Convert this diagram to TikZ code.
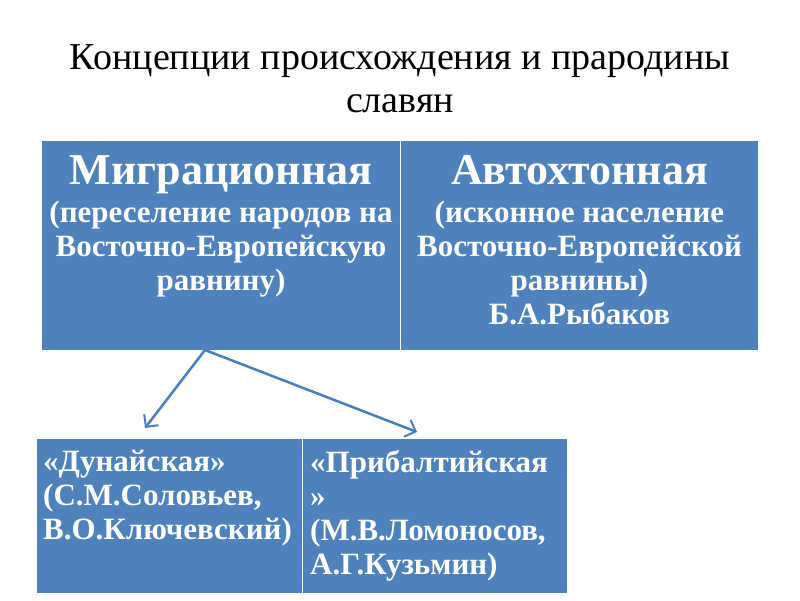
\documentclass[tikz,border=0pt]{standalone}
\usepackage{fontspec}
\setmainfont{Liberation Serif}
\usetikzlibrary{arrows.meta}
\definecolor{cellblue}{HTML}{4F81BD}
\definecolor{arrowblue}{HTML}{4A7EBB}
\tikzset{
  cell/.style={fill=cellblue, draw=white, line width=1pt, anchor=north west, inner sep=0pt},
  celltext/.style={text=white, font=\bfseries\fontsize{31}{34}\selectfont, inner sep=0pt},
  pointer/.style={draw=arrowblue, line width=2.5pt, -{Straight Barb[length=9pt,width=18pt,line width=2pt]}}
}
\begin{document}
\begin{tikzpicture}[x=1pt,y=-1pt]
  \useasboundingbox (0,0) rectangle (800,600);

  % title
  \node[align=center, font=\fontsize{38}{43}\selectfont] (title) at (400,79)
    {Концепции происхождения и прародины\\славян};

  % upper table
  \node[cell, minimum width=359pt, minimum height=210pt] (mig) at (41,140) {};
  \node[cell, minimum width=358pt, minimum height=210pt] (avt) at (400,140) {};

  \node[celltext, align=center, anchor=north] (migtext) at ([yshift=-15pt]mig.north)
    {{\fontsize{44}{44}\selectfont Миграционная}\\[4pt]
     (переселение народов на\\Восточно-Европейскую\\равнину)};
  \node[celltext, align=center, anchor=north] (avttext) at ([yshift=-15pt]avt.north)
    {{\fontsize{44}{44}\selectfont Автохтонная}\\[4pt]
     (исконное население\\Восточно-Европейской\\равнины)\\Б.А.Рыбаков};

  % lower table
  \node[cell, minimum width=266pt, minimum height=155pt] (dun) at (36,438) {};
  \node[cell, minimum width=265pt, minimum height=155pt] (prib) at (302,438) {};

  \node[celltext, align=left, anchor=north west] (duntext) at ([xshift=7pt,yshift=-12pt]dun.north west)
    {«Дунайская»\\(С.М.Соловьев,\\В.О.Ключевский)};
  \node[celltext, align=left, anchor=north west] (pribtext) at ([xshift=8pt,yshift=-12pt]prib.north west)
    {«Прибалтийская\\»\\(М.В.Ломоносов,\\А.Г.Кузьмин)};

  % arrows
  \coordinate (root) at (205,350);
  \coordinate (dunin) at (145,428);
  \coordinate (pribin) at (417,432);
  \draw[pointer] (root) -- (dunin);
  \draw[pointer] (root) -- (pribin);
\end{tikzpicture}
\end{document}
